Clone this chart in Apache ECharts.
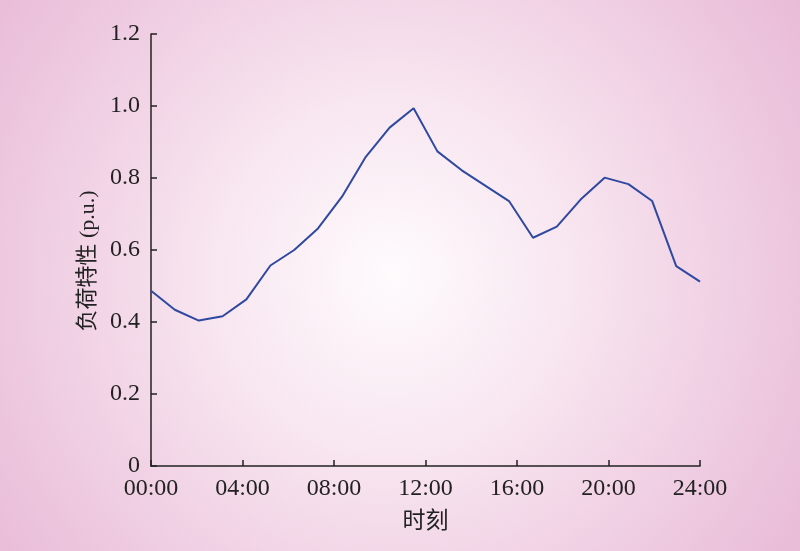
<!DOCTYPE html>
<html>
<head>
<meta charset="utf-8">
<script src="https://cdn.jsdelivr.net/npm/echarts@6/dist/echarts.min.js"></script>
<style>html,body{margin:0;padding:0;}#c{width:800px;height:551px;}</style>
</head>
<body>
<div id="c"></div>
<script>
// Time of each sample (hours) - 24 samples spread over 00:00..24:00
var hours = [0, 1.04, 2.09, 3.13, 4.17, 5.22, 6.26, 7.30, 8.35, 9.39, 10.43, 11.48,
             12.52, 13.57, 14.61, 15.65, 16.70, 17.74, 18.78, 19.83, 20.87, 21.91, 22.96, 24];
// Load characteristic (p.u.)
var load = [0.487, 0.434, 0.404, 0.416, 0.463, 0.557, 0.600, 0.660, 0.748, 0.859, 0.940, 0.994,
            0.874, 0.822, 0.779, 0.736, 0.634, 0.665, 0.740, 0.801, 0.783, 0.736, 0.555, 0.512];
var xTickHours = [0, 4, 8, 12, 16, 20, 24];
var xTickLabels = ['00:00', '04:00', '08:00', '12:00', '16:00', '20:00', '24:00'];
var yTicks = [0, 0.2, 0.4, 0.6, 0.8, 1.0, 1.2];

var data = hours.map(function (h, i) { return [h, load[i]]; });
var font = '"Liberation Serif", "Noto Sans CJK SC", serif';

var chart = echarts.init(document.getElementById('c'));
chart.setOption({
  backgroundColor: {
    type: 'radial', x: 0.49, y: 0.5, r: 0.92,
    colorStops: [
      {offset: 0, color: '#fefbfd'},
      {offset: 0.35, color: '#f8e6f0'},
      {offset: 0.7, color: '#efcde2'},
      {offset: 1, color: '#e8b9d6'}
    ]
  },
  animation: false,
  grid: {left: 151, right: 100, top: 34, bottom: 85},
  xAxis: {
    type: 'value', min: 0, max: 24, interval: 4,
    name: '时刻', nameLocation: 'middle', nameGap: 44,
    nameTextStyle: {fontFamily: font, fontSize: 23, color: '#222'},
    axisLine: {show: true, lineStyle: {color: '#222', width: 1.5}},
    axisTick: {show: true, inside: true, length: 6, lineStyle: {color: '#222', width: 1.5}},
    splitLine: {show: false},
    axisLabel: {
      fontFamily: font, fontSize: 24, color: '#222', margin: 11,
      formatter: function (v) { var i = xTickHours.indexOf(v); return i >= 0 ? xTickLabels[i] : ''; }
    }
  },
  yAxis: {
    type: 'value', min: 0, max: 1.2, interval: 0.2,
    name: '负荷特性 (p.u.)', nameLocation: 'middle', nameGap: 52,
    nameTextStyle: {fontFamily: font, fontSize: 22, color: '#222', padding: [0, 22, 0, 0], align: 'center'},
    axisLine: {show: true, lineStyle: {color: '#222', width: 1.5}},
    axisTick: {show: true, inside: true, length: 6, lineStyle: {color: '#222', width: 1.5}},
    splitLine: {show: false},
    axisLabel: {
      fontFamily: font, fontSize: 24, color: '#222', margin: 11,
      formatter: function (v) {
        var t = yTicks.filter(function (y) { return Math.abs(y - v) < 1e-6; })[0];
        return t === 0 ? '0' : t.toFixed(1);
      }
    }
  },
  series: [{
    type: 'line', data: data, symbol: 'none',
    lineStyle: {color: '#2f48a0', width: 2}
  }]
});
</script>
</body>
</html>
